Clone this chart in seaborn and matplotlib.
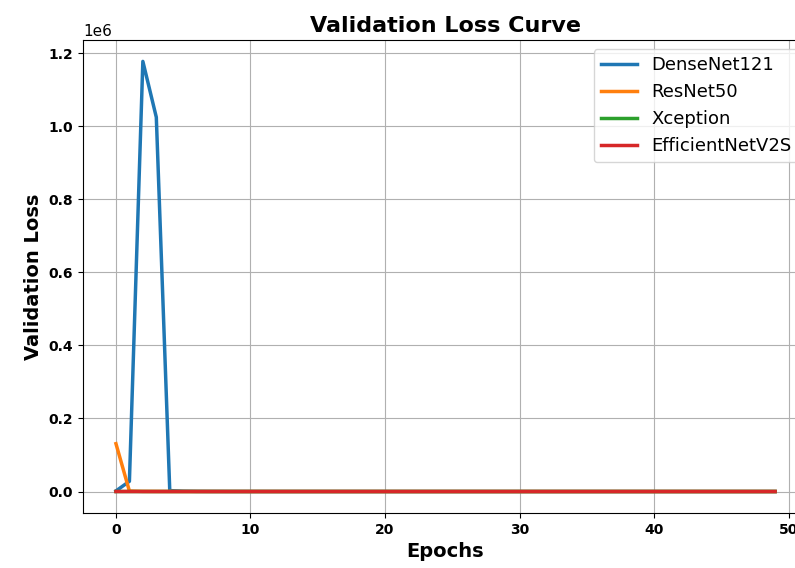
import matplotlib
matplotlib.use("Agg")
import matplotlib.pyplot as plt
import seaborn as sns
import pandas as pd

epochs = list(range(50))

densenet121 = [1500, 28000, 1178000, 1025000, 2500, 900, 400, 250, 180, 120,
               90, 70, 60, 50, 45, 40, 35, 30, 28, 25,
               22, 20, 18, 16, 15, 14, 13, 12, 11, 10,
               9.5, 9, 8.5, 8, 7.5, 7, 6.8, 6.5, 6.2, 6,
               5.8, 5.6, 5.4, 5.2, 5, 4.8, 4.6, 4.4, 4.2, 4]
resnet50 = [131000, 1200, 300, 150, 90, 60, 45, 35, 30, 25,
            22, 20, 18, 16, 15, 14, 13, 12, 11, 10,
            9.5, 9, 8.5, 8, 7.5, 7, 6.8, 6.5, 6.2, 6,
            5.8, 5.6, 5.4, 5.2, 5, 4.8, 4.6, 4.4, 4.2, 4,
            3.9, 3.8, 3.7, 3.6, 3.5, 3.4, 3.3, 3.2, 3.1, 3.0]
xception = [2.1, 1.6, 1.3, 1.1, 0.95, 0.85, 0.78, 0.72, 0.68, 0.65,
            0.62, 0.6, 0.58, 0.57, 0.56, 0.55, 0.54, 0.53, 0.52, 0.52,
            0.51, 0.51, 0.5, 0.5, 0.5, 0.49, 0.49, 0.49, 0.48, 0.48,
            0.48, 0.48, 0.47, 0.47, 0.47, 0.47, 0.47, 0.46, 0.46, 0.46,
            0.46, 0.46, 0.46, 0.45, 0.45, 0.45, 0.45, 0.45, 0.45, 0.45]
efficientnetv2s = [1.8, 1.4, 1.2, 1.05, 0.92, 0.83, 0.76, 0.7, 0.66, 0.63,
                   0.6, 0.58, 0.56, 0.55, 0.54, 0.53, 0.52, 0.51, 0.5, 0.5,
                   0.49, 0.49, 0.48, 0.48, 0.48, 0.47, 0.47, 0.47, 0.46, 0.46,
                   0.46, 0.46, 0.45, 0.45, 0.45, 0.45, 0.45, 0.44, 0.44, 0.44,
                   0.44, 0.44, 0.44, 0.43, 0.43, 0.43, 0.43, 0.43, 0.43, 0.43]

series_names = ["DenseNet121", "ResNet50", "Xception", "EfficientNetV2S"]
series_values = [densenet121, resnet50, xception, efficientnetv2s]
colors = ["#1f77b4", "#ff7f0e", "#2ca02c", "#d62728"]

fig = plt.figure(figsize=(7.95, 5.68), dpi=100)
ax = fig.add_axes([0.1044, 0.0968, 0.912, 0.833])

for name, vals, c in zip(series_names, series_values, colors):
    df = pd.DataFrame({"Epoch": epochs, "Loss": vals})
    sns.lineplot(data=df, x="Epoch", y="Loss", ax=ax, color=c, linewidth=2.5, label=name)

ax.grid(True, color="#b0b0b0", linewidth=0.8)
ax.set_title("Validation Loss Curve", fontsize=16, fontweight="bold")
ax.set_xlabel("Epochs", fontsize=14, fontweight="bold")
ax.set_ylabel("Validation Loss", fontsize=14, fontweight="bold")
for lbl in ax.get_xticklabels() + ax.get_yticklabels():
    lbl.set_fontweight("bold")
ax.tick_params(labelsize=10)
ax.yaxis.get_offset_text().set_fontsize(11)
ax.legend(loc="upper right", fontsize=13)

fig.savefig("out.png", dpi=100)
